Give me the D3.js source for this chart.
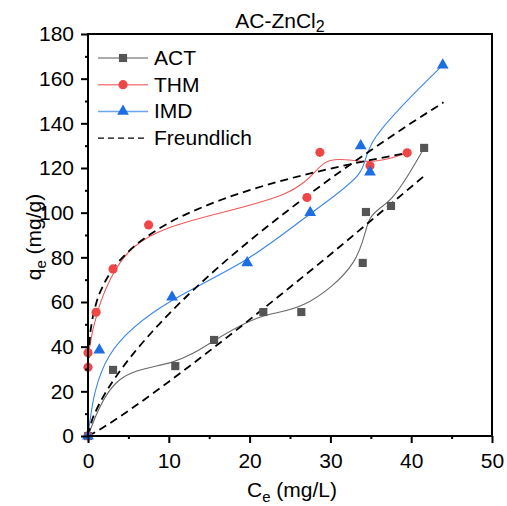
<!DOCTYPE html>
<html>
<head>
<meta charset="utf-8">
<script src="https://cdn.jsdelivr.net/npm/d3@7"></script>
<style>
  body { margin: 0; background: #fff; }
  text { font-family: "Liberation Sans", Arial, sans-serif; }
</style>
</head>
<body>
<div id="chart"></div>
<script>
// measured points (Ce, qe), in data order
var actC = [0, 3.1, 10.8, 15.6, 21.7, 26.4, 34.0, 34.4, 37.5, 41.6];
var actQ = [0, 29.6, 31.3, 43, 55.5, 55.5, 77.5, 100.3, 103, 129];
var thmC = [0, 0, 0, 1.0, 3.1, 7.5, 27.1, 28.7, 34.9, 39.5];
var thmQ = [0, 30.8, 37.3, 55.4, 74.8, 94.5, 106.8, 127, 121, 126.8];
var imdC = [0, 1.4, 10.4, 19.7, 27.5, 34.9, 33.75, 43.9];
var imdQ = [0, 38.5, 62.2, 77.5, 100, 118.2, 129.9, 166.1];

// Freundlich fit curves
var fitActC = [0, 1, 2, 5, 10, 15, 20, 25, 30, 35, 41.6];
var fitActQ = [0, 1.9, 4.1, 11.3, 24.3, 38.0, 52.1, 66.6, 81.3, 96.4, 116.4];
var fitThmC = [0, 0.001, 0.01, 0.05, 0.2, 0.5, 1, 2, 3, 5, 7.5, 10, 15, 20, 25, 30, 35, 39.5];
var fitThmQ = [0, 14.2, 22.8, 31.8, 42.4, 51.3, 59.2, 68.3, 74.3, 82.6, 89.8, 95.4, 103.7, 110.1, 115.3, 119.7, 123.6, 126.7];
var fitImdC = [0, 0.5, 1, 2, 4, 6, 8, 10, 15, 20, 25, 30, 35, 40, 44];
var fitImdQ = [0, 7.1, 11.4, 18.3, 29.3, 38.6, 46.9, 54.6, 71.9, 87.4, 101.7, 115.2, 127.9, 140.1, 149.4];

var xTicks = [0, 10, 20, 30, 40, 50];
var yTicks = [0, 20, 40, 60, 80, 100, 120, 140, 160, 180];

function init() {
    var w = 507, h = 506;
    var pl = 88, pr = 492, pt = 34, pb = 436;
    var fs = 21;

    var svg = d3.select("#chart").append("svg")
        .attr("width", w)
        .attr("height", h);

    var x = d3.scaleLinear().domain([0, 50]).range([pl, pr]);
    var y = d3.scaleLinear().domain([0, 180]).range([pb, pt]);

    function zip(cs, qs) {
        return cs.map(function(c, i) { return [c, qs[i]]; });
    }

    var series = [
        { name: "ACT", pts: zip(actC, actQ), fill: "#555555", line: "#6a6a6a", sym: d3.symbolSquare, size: 66 },
        { name: "THM", pts: zip(thmC, thmQ), fill: "#f04646", line: "#f05a5a", sym: d3.symbolCircle, size: 66 },
        { name: "IMD", pts: zip(imdC, imdQ), fill: "#1c6fe3", line: "#3a86ea", sym: d3.symbolTriangle, size: 60 }
    ];
    var fits = [zip(fitActC, fitActQ), zip(fitThmC, fitThmQ), zip(fitImdC, fitImdQ)];

    svg.append("clipPath").attr("id", "clip")
        .append("rect")
        .attr("x", pl).attr("y", pt)
        .attr("width", pr - pl).attr("height", pb - pt);

    var plot = svg.append("g").attr("clip-path", "url(#clip)");

    var spline = d3.line()
        .x(function(d) { return x(d[0]); })
        .y(function(d) { return y(d[1]); })
        .curve(d3.curveBasis);

    var smooth = d3.line()
        .x(function(d) { return x(d[0]); })
        .y(function(d) { return y(d[1]); })
        .curve(d3.curveMonotoneX);

    // B-spline connection lines
    series.forEach(function(s) {
        plot.append("path")
            .attr("d", spline(s.pts))
            .attr("fill", "none")
            .attr("stroke", s.line)
            .attr("stroke-width", 1.1);
    });

    // markers
    series.forEach(function(s) {
        svg.append("g").selectAll("path")
            .data(s.pts)
            .enter()
            .append("path")
            .attr("d", d3.symbol().type(s.sym).size(s.size))
            .attr("transform", function(d) { return "translate(" + x(d[0]) + "," + y(d[1]) + ")"; })
            .attr("fill", s.fill);
    });

    // Freundlich fits
    fits.forEach(function(f) {
        plot.append("path")
            .attr("d", smooth(f))
            .attr("fill", "none")
            .attr("stroke", "#000")
            .attr("stroke-width", 1.8)
            .attr("stroke-dasharray", "8,5");
    });

    // axes
    var xAxis = d3.axisBottom(x).tickValues(xTicks).tickSize(7).tickPadding(10);
    var xMinor = d3.axisBottom(x).tickValues(d3.range(5, 50, 10)).tickSize(3).tickFormat("");
    var yAxis = d3.axisLeft(y).tickValues(yTicks).tickSize(7).tickPadding(7);
    var yMinor = d3.axisLeft(y).tickValues(d3.range(10, 180, 20)).tickSize(3).tickFormat("");

    [[xAxis, "translate(0," + pb + ")"], [xMinor, "translate(0," + pb + ")"],
     [yAxis, "translate(" + pl + ",0)"], [yMinor, "translate(" + pl + ",0)"]].forEach(function(a) {
        var g = svg.append("g").attr("transform", a[1]).call(a[0]);
        g.select(".domain").remove();
        g.selectAll("line").attr("stroke", "#000").attr("stroke-width", 2);
        g.selectAll("text").attr("font-size", fs).attr("fill", "#000")
            .style("font-family", "'Liberation Sans', Arial, sans-serif");
    });

    svg.append("rect")
        .attr("x", pl).attr("y", pt)
        .attr("width", pr - pl).attr("height", pb - pt)
        .attr("fill", "none")
        .attr("stroke", "#000")
        .attr("stroke-width", 2);

    // titles
    var t = svg.append("text")
        .attr("x", 280).attr("y", 28)
        .attr("text-anchor", "middle")
        .attr("font-size", fs);
    t.append("tspan").text("AC-ZnCl");
    t.append("tspan").attr("font-size", 16).attr("dy", 4).text("2");

    var xt = svg.append("text")
        .attr("x", 292).attr("y", 497)
        .attr("text-anchor", "middle")
        .attr("font-size", fs);
    xt.append("tspan").text("C");
    xt.append("tspan").attr("font-size", 15).attr("dy", 5).text("e");
    xt.append("tspan").attr("dy", -5).text(" (mg/L)");

    var yt = svg.append("text")
        .attr("transform", "translate(41,237) rotate(-90)")
        .attr("text-anchor", "middle")
        .attr("font-size", fs);
    yt.append("tspan").text("q");
    yt.append("tspan").attr("font-size", 15).attr("dy", 5).text("e");
    yt.append("tspan").attr("dy", -5).text(" (mg/g)");

    // legend
    var legend = svg.append("g");
    var rows = series.concat([{ name: "Freundlich" }]);
    rows.forEach(function(s, i) {
        var ly = 58 + i * 26.7;
        var ln = legend.append("line")
            .attr("x1", 98).attr("x2", 148)
            .attr("y1", ly).attr("y2", ly);
        if (s.sym) {
            ln.attr("stroke", s.line).attr("stroke-opacity", 0.75).attr("stroke-width", 1.5);
            legend.append("path")
                .attr("d", d3.symbol().type(s.sym).size(s.size))
                .attr("transform", "translate(123," + ly + ")")
                .attr("fill", s.fill);
        } else {
            ln.attr("stroke", "#000").attr("stroke-width", 1.3).attr("stroke-dasharray", "6,4");
        }
        legend.append("text")
            .attr("x", 154).attr("y", ly + 7)
            .attr("font-size", fs)
            .text(s.name);
    });
}

window.onload = init;
</script>
</body>
</html>
